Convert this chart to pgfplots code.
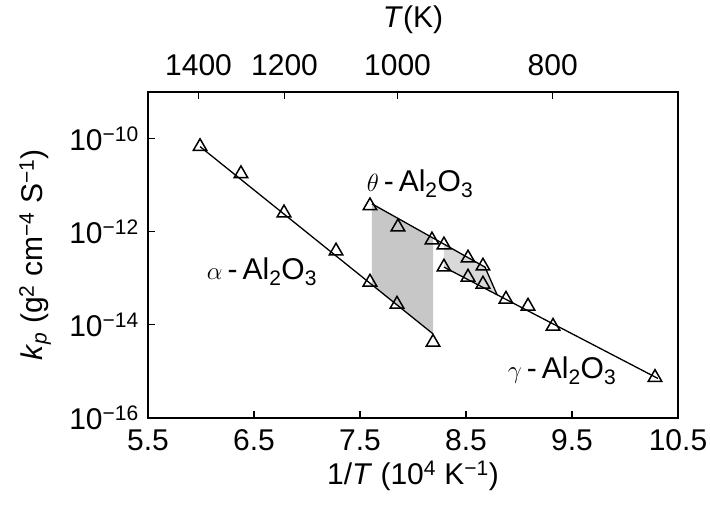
\documentclass[border=0pt]{standalone}
\usepackage{fontspec}
\setmainfont{Liberation Sans}
\usepackage{pgfplots}
\pgfplotsset{compat=1.18}

% Parabolic rate constants of alumina scales (open triangles = measurements)
\newcommand{\msup}[1]{\textsuperscript{#1}}
\pgfplotsset{
  tri/.style={only marks, mark=triangle, mark size=7.8pt,
    mark options={fill=white, draw=black, line width=1.5pt}},
  fitline/.style={black, line width=1.3pt, no marks},
}

\begin{document}
\fontsize{30}{34}\selectfont
\begin{tikzpicture}
\begin{axis}[
  scale only axis, width=530pt, height=326pt,
  xmin=5.5, xmax=10.5,
  ymode=log, ymin=1e-16, ymax=1e-9,
  tick align=inside,
  major tick length=7pt,
  tick style={line width=1.2pt, black},
  axis line style={line width=1.5pt},
  yminorticks=false, xminorticks=false,
  xtick={5.5,6.5,7.5,8.5,9.5,10.5},
  xticklabels={5.5,6.5,7.5,8.5,9.5,10.5},
  ytick={1e-16,1e-14,1e-12,1e-10},
  yticklabels={10\msup{−16},10\msup{−14},10\msup{−12},10\msup{−10}},
  xtick pos=bottom, ytick pos=left,
  xticklabel style={anchor=center, yshift=-22pt},
  yticklabel style={anchor=east, xshift=-9pt, inner sep=0pt},
  xlabel={1/\textit{T} (10\msup{4} K\msup{−1})},
  ylabel={\textit{k}\textsubscript{\textit{p}} (g\msup{2} cm\msup{−4} S\msup{−1})},
  xlabel style={at={(axis description cs:0.5,-0.178)}, anchor=center},
  ylabel style={at={(axis description cs:-0.213,0.5)}, anchor=center},
]
\coordinate (frameLL) at (rel axis cs:0,0);
\coordinate (frameUR) at (rel axis cs:1,1);

% shaded transition bands
\addplot[draw=none, fill=black!22] coordinates {
  (7.613,3.97e-12) (8.189,7.35e-13) (8.189,6.40e-15) (7.613,7.21e-14)};
\addplot[draw=none, fill=black!15] coordinates {
  (8.292,5.43e-13) (8.679,1.74e-13) (8.792,4.5e-14) (8.292,1.74e-13)};

% fitted lines
\addplot[fitline] coordinates {(5.991,6.73e-11) (8.189,6.40e-15)};
\addplot[fitline] coordinates {(7.613,3.97e-12) (8.679,1.74e-13) (8.792,4.5e-14)};
\addplot[fitline] coordinates {(8.292,1.74e-13) (10.311,7.06e-16)};

% alpha-Al2O3
\addplot[tri] coordinates {
  (5.991,6.73e-11) (6.377,1.76e-11) (6.783,2.54e-12) (7.274,3.85e-13)
  (7.594,8.28e-14) (7.849,2.78e-14) (8.189,4.22e-15)};
% theta-Al2O3
\addplot[tri] coordinates {
  (7.594,3.60e-12) (7.858,1.27e-12) (8.179,6.65e-13) (8.292,5.20e-13)
  (8.519,2.72e-13) (8.660,1.83e-13)};
% gamma-Al2O3
\addplot[tri] coordinates {
  (8.292,1.74e-13) (8.519,1.06e-13) (8.660,7.50e-14) (8.877,3.56e-14)
  (9.085,2.52e-14) (9.321,9.33e-15) (10.283,7.43e-16)};

\node at (axis cs:6.575,1.36e-13) {$\alpha$\,-\,Al\textsubscript{2}O\textsubscript{3}};
\node at (axis cs:8.066,1.07e-11) {$\theta$\,-\,Al\textsubscript{2}O\textsubscript{3}};
\node at (axis cs:9.406,1.05e-15) {$\gamma$\,-\,Al\textsubscript{2}O\textsubscript{3}};
\end{axis}

% temperature scale on top (10^4/T, T in kelvin)
\begin{axis}[
  scale only axis, width=530pt, height=326pt,
  xmin=5.5, xmax=10.5,
  ymin=0, ymax=1,
  tick align=inside,
  major tick length=7pt,
  tick style={line width=1.2pt, black},
  axis line style={line width=1.5pt},
  xminorticks=false,
  axis x line*=top, axis y line=none,
  xtick={5.977,6.788,7.854,9.318},
  xticklabels={1400,1200,1000,800},
  xticklabel style={anchor=center, yshift=27pt},
  xlabel={\textit{T}(K)},
  xlabel style={at={(axis description cs:0.5,1.221)}, anchor=center},
]
\addplot[draw=none] coordinates {(6,0.5)};
\end{axis}

\pgfresetboundingbox
\path ([shift={(-148pt,-87pt)}]frameLL) rectangle ([shift={(32pt,92pt)}]frameUR);
\end{tikzpicture}
\end{document}
